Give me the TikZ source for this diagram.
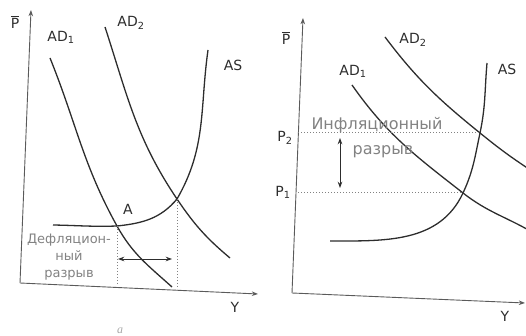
\documentclass[tikz,border=0pt]{standalone}
\usepackage{fontspec}
\setmainfont{DejaVu Sans}
\newfontfamily\capfont{Liberation Serif}
\usetikzlibrary{arrows.meta,positioning}
\definecolor{ink}{RGB}{45,45,45}
\definecolor{pencil}{RGB}{90,90,90}
\definecolor{faded}{RGB}{130,130,130}
\newcommand{\pbar}{$\overline{\mbox{P}}$}
\tikzset{
  >={Stealth[length=2.2mm,width=1.6mm]},
  axis/.style={->,draw=pencil,line width=0.9pt},
  curve/.style={draw=ink,line width=1.3pt},
  guide/.style={draw=faded,dotted,line width=1pt},
  gap/.style={<->,draw=ink,line width=0.8pt},
  lbl/.style={font=\fontsize{14}{16}\selectfont,text=ink,inner sep=0pt},
  gaptext/.style={font=\fontsize{13}{17}\selectfont,text=faded,align=center,inner sep=0pt},
}

\begin{document}
\begin{tikzpicture}[x=1pt,y=1pt]
  \useasboundingbox (0,0) rectangle (526,336);
  % panel a: deflationary gap
  \coordinate (o1) at (20,53);
  \coordinate (p1top) at (31,326);
  \coordinate (y1end) at (258,42);
  \draw[axis] (o1) -- (p1top);
  \draw[axis] (o1) -- (y1end);
  \coordinate (ad1s) at (50,278);
  \coordinate (A) at (117,110);
  \coordinate (ad1e) at (172,49);
  \coordinate (ad2s) at (105,309);
  \coordinate (E1) at (177,137);
  \coordinate (ad2e) at (230,78);
  \coordinate (as1s) at (53,111);
  \coordinate (as1t) at (208,286);
  \draw[curve] (ad1s) to[out=-68,in=119] (A) to[out=-61,in=138] (ad1e);
  \draw[curve] (ad2s) to[out=-72,in=124] (E1) to[out=-56,in=140] (ad2e);
  \draw[curve] (as1s) to[out=-1,in=182] (A) to[out=6,in=230] (E1) to[out=60,in=262] (as1t);
  \coordinate (Afoot) at (117,51);
  \coordinate (E1foot) at (177,47);
  \draw[guide] (A) -- (Afoot);
  \draw[guide] (E1) -- (E1foot);
  \coordinate (gapL) at (118,77);
  \coordinate (gapR) at (172,77);
  \draw[gap] (gapL) -- (gapR);
  \node[lbl] (pbar1) at (15,314) {\pbar};
  \node[lbl] (ad1lab) at (61,299) {AD\textsubscript{1}};
  \node[lbl] (ad2lab) at (131,313) {AD\textsubscript{2}};
  \node[lbl] (as1lab) at (233,271) {AS};
  \node[lbl] (alab) at (128,127) {A};
  \node[lbl] (y1lab) at (235,29) {Y};
  \node[gaptext] (defl) at (69,79) {Дефляцион-\\ный\\разрыв};
  \node[font=\capfont\itshape\fontsize{12}{12}\selectfont,text=faded!70] (cap1) at (120,5) {a};
  % panel b: inflationary gap
  \coordinate (o2) at (292,43);
  \coordinate (p2top) at (303,318);
  \coordinate (y2end) at (525,33);
  \draw[axis] (o2) -- (p2top);
  \draw[axis] (o2) -- (y2end);
  \coordinate (bd1s) at (352,251);
  \coordinate (E) at (463,143);
  \coordinate (bd1e) at (532,104);
  \coordinate (bd2s) at (385,299);
  \coordinate (E2) at (480,203);
  \coordinate (bd2e) at (532,165);
  \coordinate (as2s) at (330,95);
  \coordinate (as2t) at (487,273);
  \draw[curve] (bd1s) to[out=-55,in=142] (E) to[out=-38,in=150] (bd1e);
  \draw[curve] (bd2s) to[out=-53,in=141] (E2) to[out=-39,in=147] (bd2e);
  \draw[curve] (as2s) to[out=0,in=245] (E) to[out=65,in=258] (E2) to[out=78,in=265] (as2t);
  \coordinate (P2edge) at (298,203);
  \coordinate (P1edge) at (298,143);
  \draw[guide] (P2edge) -- (E2);
  \draw[guide] (P1edge) -- (E);
  \coordinate (gapT) at (340,198);
  \coordinate (gapB) at (340,148);
  \draw[gap] (gapT) -- (gapB);
  \node[lbl] (pbar2) at (286,298) {\pbar};
  \node[lbl] (P2lab) at (285,198) {P\textsubscript{2}};
  \node[lbl] (P1lab) at (283,144) {P\textsubscript{1}};
  \node[lbl] (bd1lab) at (353,265) {AD\textsubscript{1}};
  \node[lbl] (bd2lab) at (413,296) {AD\textsubscript{2}};
  \node[lbl] (as2lab) at (507,267) {AS};
  \node[lbl] (y2lab) at (505,20) {Y};
  \node[gaptext,font=\fontsize{16}{17}\selectfont] (infl1) at (377,211) {Инфляционный};
  \node[gaptext,font=\fontsize{16}{17}\selectfont] (infl2) at (383,184) {разрыв};
\end{tikzpicture}
\end{document}
